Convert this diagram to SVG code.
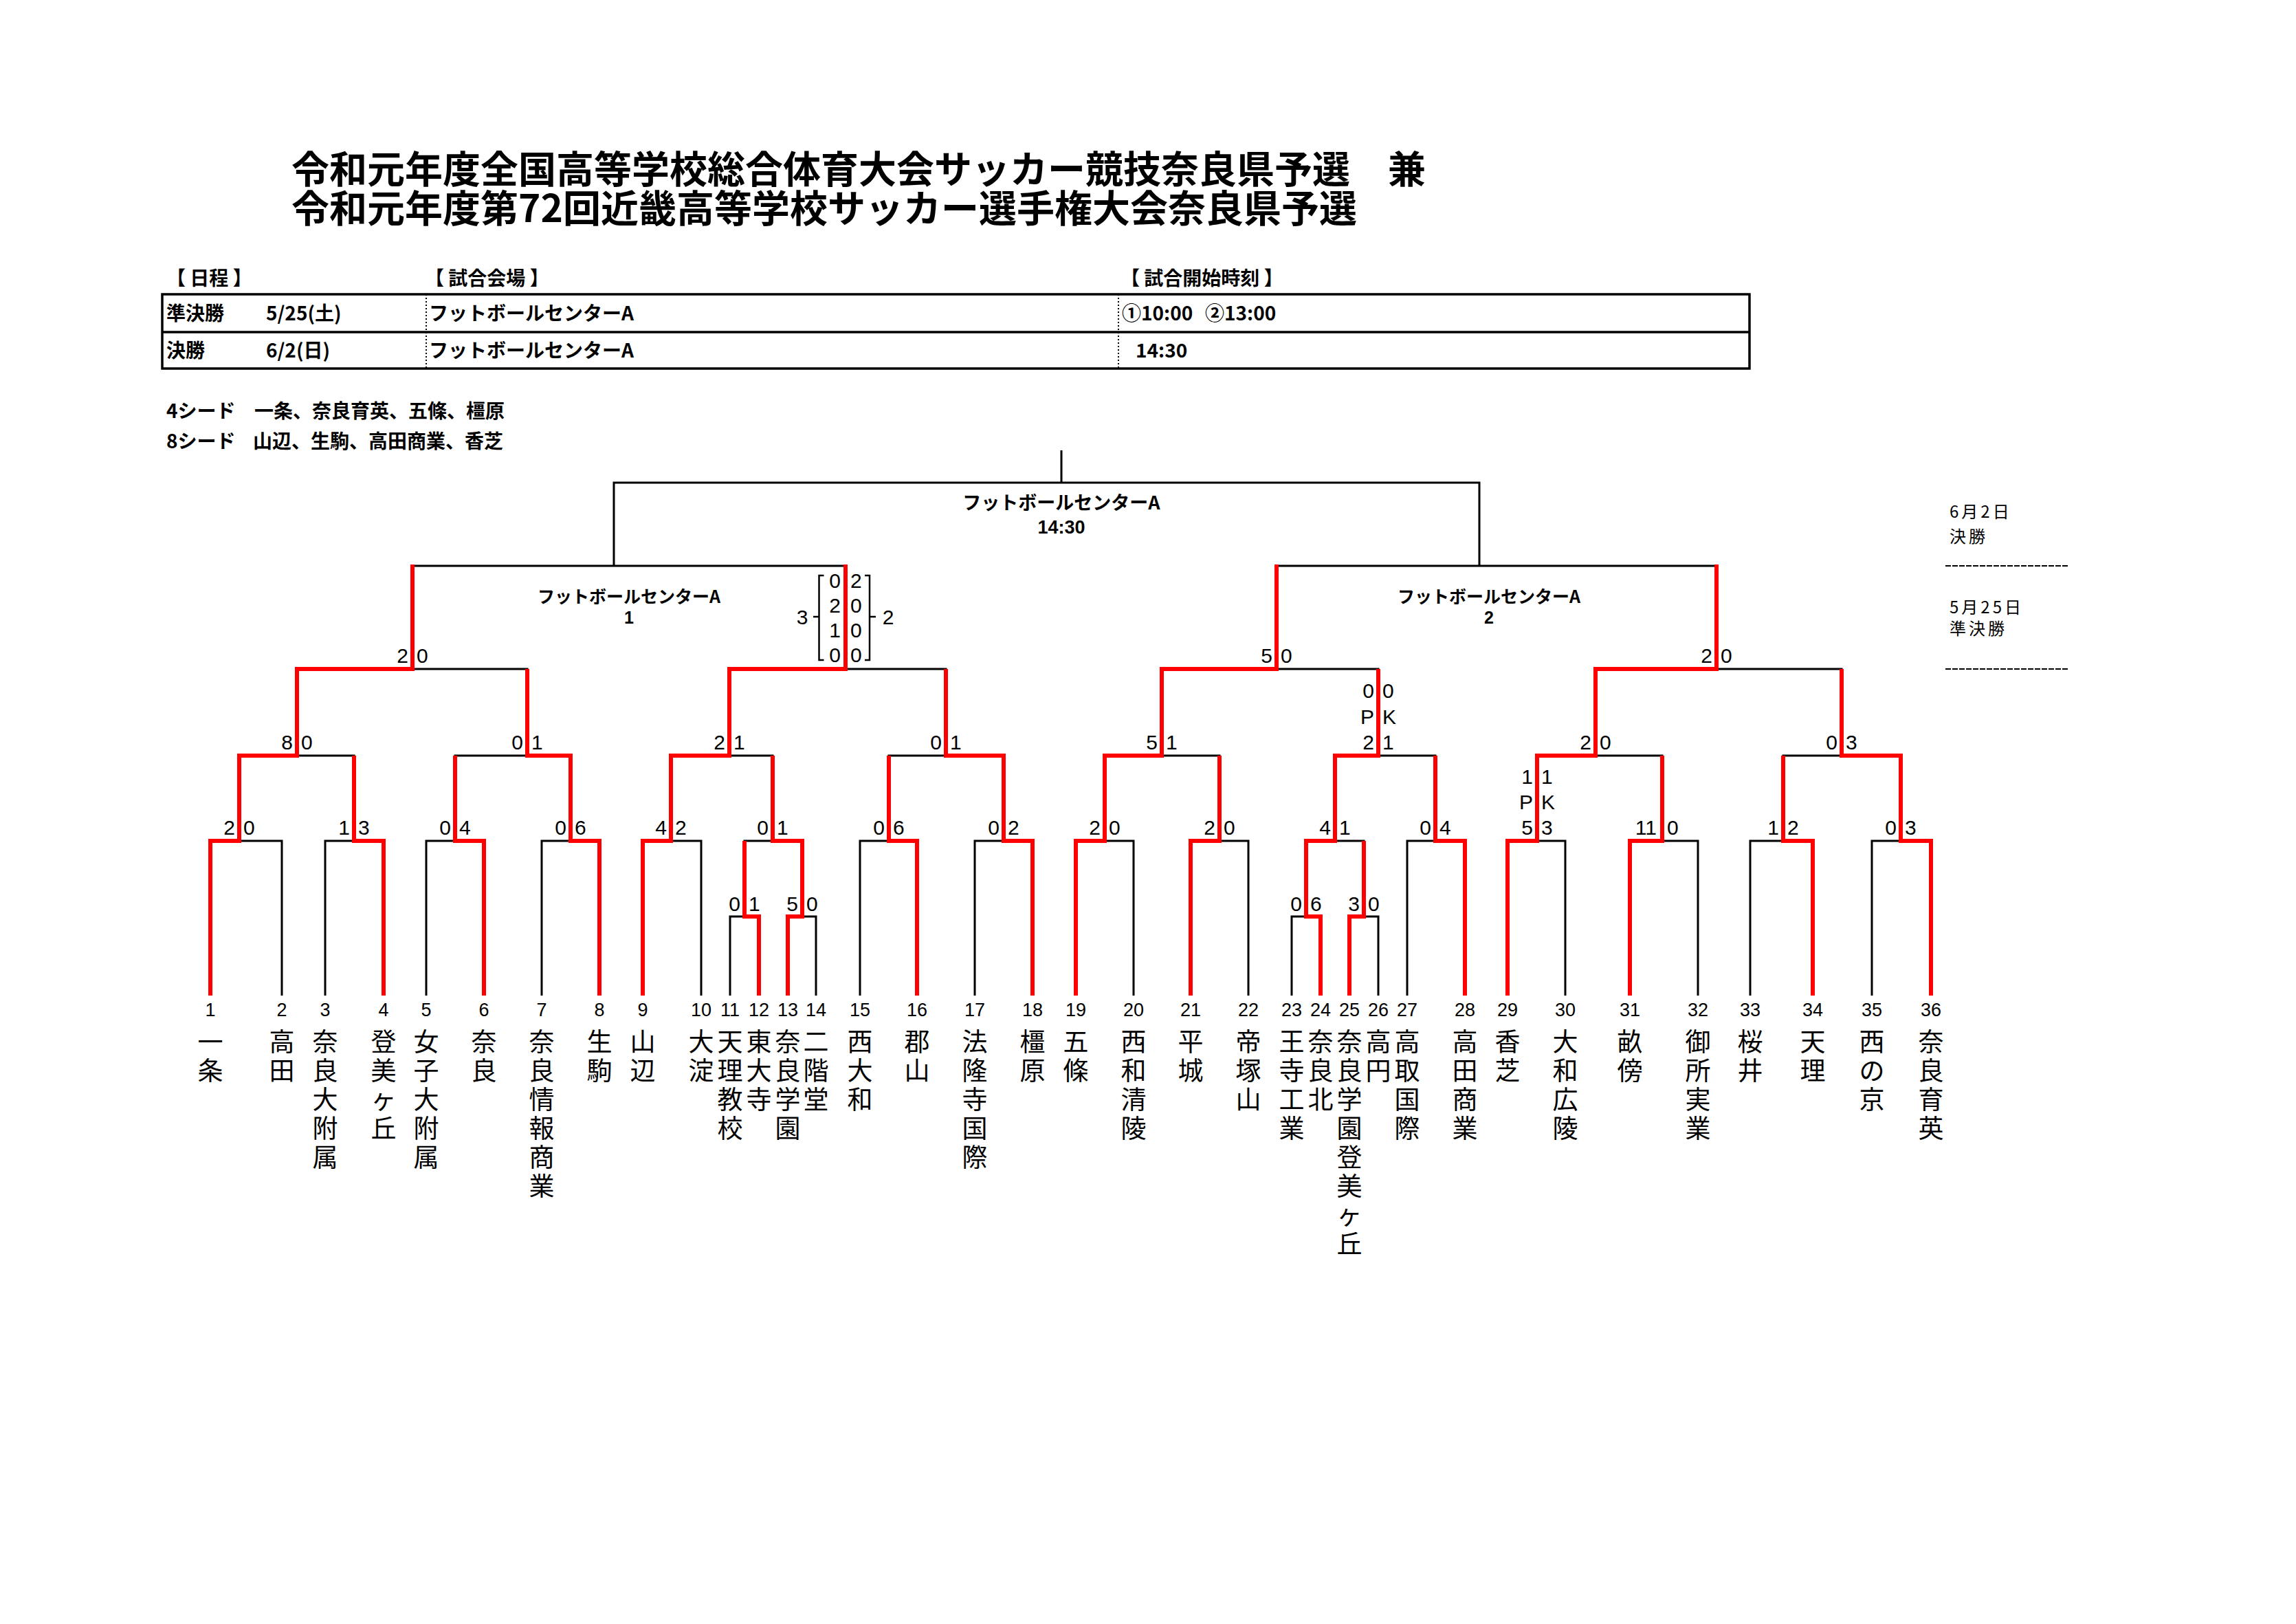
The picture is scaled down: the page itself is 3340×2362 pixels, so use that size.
<svg xmlns="http://www.w3.org/2000/svg" width="3340" height="2362" viewBox="0 0 3340 2362">
<style>
text{font-family:"Liberation Sans","Noto Sans CJK JP",sans-serif;fill:#000}
.ttl{font-family:"Noto Sans CJK JP",sans-serif;font-size:55px;font-weight:bold}
.hd{font-family:"Noto Sans CJK JP",sans-serif;font-size:28px;font-weight:bold}
.vn{font-family:"Noto Sans CJK JP",sans-serif;font-weight:bold;text-anchor:middle}
.vd{font-family:"Liberation Sans",sans-serif;font-weight:bold;text-anchor:middle}
.side{font-family:"Noto Sans CJK JP",sans-serif;font-size:24px;letter-spacing:4px}
.num{font-size:27px;text-anchor:middle}
.nm{font-family:"Noto Sans CJK JP",sans-serif;font-size:37px;writing-mode:vertical-rl;letter-spacing:5px;font-feature-settings:"vert" 0,"vrt2" 0}
.L{font-size:30px;text-anchor:end}
.R{font-size:30px;text-anchor:start}
.C{font-size:30px;text-anchor:middle}
.b{fill:none;stroke:#000;stroke-width:3}
.r{fill:none;stroke:#ff0000;stroke-width:6;stroke-linejoin:miter}
.tb{fill:none;stroke:#000;stroke-width:3.5}
.dot{fill:none;stroke:#000;stroke-width:2;stroke-dasharray:2 3}
.dash{fill:none;stroke:#000;stroke-width:2.2;stroke-dasharray:8 2}
.brk{fill:none;stroke:#000;stroke-width:2.5}
</style>
<rect width="3340" height="2362" fill="#fff"/>
<g id="title">
<text class="ttl" x="424" y="266">令和元年度全国高等学校総合体育大会サッカー競技奈良県予選　兼</text>
<text class="ttl" x="424" y="323">令和元年度第72回近畿高等学校サッカー選手権大会奈良県予選</text>
</g>
<g id="schedule">
<text class="hd" x="242" y="415">【 日程 】</text>
<text class="hd" x="618" y="415">【 試合会場 】</text>
<text class="hd" x="1630" y="415">【 試合開始時刻 】</text>
<path class="tb" d="M236 428 H2545 V536 H236 Z M236 483 H2545"/>
<path class="dot" d="M620 428 V536 M1627 428 V536"/>
<text class="hd" x="242" y="466">準決勝</text>
<text class="hd" x="387" y="466">5/25(土)</text>
<text class="hd" x="624" y="466">フットボールセンターA</text>
<text class="hd" x="1632" y="466">①10:00</text>
<text class="hd" x="1753" y="466">②13:00</text>
<text class="hd" x="242" y="520">決勝</text>
<text class="hd" x="387" y="520">6/2(日)</text>
<text class="hd" x="624" y="520">フットボールセンターA</text>
<text class="hd" x="1652" y="520">14:30</text>
</g>
<g id="seeds">
<text class="hd" x="242" y="608">4シード</text>
<text class="hd" x="370" y="608">一条、奈良育英、五條、橿原</text>
<text class="hd" x="242" y="652">8シード</text>
<text class="hd" x="368" y="652">山辺、生駒、高田商業、香芝</text>
</g>
<g id="round-labels">
<text class="side" x="2836" y="753">6月2日</text>
<text class="side" x="2836" y="789">決勝</text>
<path class="dash" d="M2830 823 H3010 M2830 973 H3010"/>
<text class="side" x="2836" y="892">5月25日</text>
<text class="side" x="2836" y="923">準決勝</text>
</g>
<g id="connectors">
<g id="black-lines">
<path class="b" d="M1544 655 V702 M893 823 V702 H2152 V823"/>
<path class="b" d="M600 973 V823 H1230 V973 M1857 973 V823 H2497 V973"/>
<path class="b" d="M432 1099 V973 H767 V1099 M1061 1099 V973 H1376 V1099 M1690 1099 V973 H2005 V1099 M2321 1099 V973 H2679 V1099"/>
<path class="b" d="M348 1223 V1099 H515 V1223 M662 1223 V1099 H830 V1223 M976 1223 V1099 H1124 V1223 M1293 1223 V1099 H1460 V1223 M1607 1223 V1099 H1774 V1223 M1942 1223 V1099 H2088 V1223 M2236 1223 V1099 H2418 V1223 M2594 1223 V1099 H2765 V1223"/>
<path class="b" d="M306 1448 V1223 H410 V1448 M473 1448 V1223 H558 V1448 M620 1448 V1223 H704 V1448 M788 1448 V1223 H872 V1448 M935 1448 V1223 H1020 V1448 M1083 1333 V1223 H1167 V1333 M1251 1448 V1223 H1334 V1448 M1418 1448 V1223 H1502 V1448"/>
<path class="b" d="M1565 1448 V1223 H1649 V1448 M1732 1448 V1223 H1816 V1448 M1900 1333 V1223 H1984 V1333 M2047 1448 V1223 H2131 V1448 M2193 1448 V1223 H2277 V1448 M2371 1448 V1223 H2470 V1448 M2546 1448 V1223 H2637 V1448 M2723 1448 V1223 H2809 V1448"/>
<path class="b" d="M1062 1448 V1333 H1104 V1448 M1146 1448 V1333 H1187 V1448 M1879 1448 V1333 H1921 V1448 M1963 1448 V1333 H2005 V1448"/>
</g>
<g id="red-lines">
<path class="r" d="M306 1448 V1223 H348 V1099 H432 V973 H600 V821"/>
<path class="r" d="M558 1448 V1223 H515 V1099"/>
<path class="r" d="M704 1448 V1223 H662 V1099"/>
<path class="r" d="M872 1448 V1223 H830 V1099 H767 V973"/>
<path class="r" d="M935 1448 V1223 H976 V1099 H1061 V973 H1230 V821"/>
<path class="r" d="M1104 1448 V1333 H1083 V1223"/>
<path class="r" d="M1146 1448 V1333 H1167 V1223 H1124 V1099"/>
<path class="r" d="M1334 1448 V1223 H1293 V1099"/>
<path class="r" d="M1502 1448 V1223 H1460 V1099 H1376 V973"/>
<path class="r" d="M1565 1448 V1223 H1607 V1099 H1690 V973 H1857 V821"/>
<path class="r" d="M1732 1448 V1223 H1774 V1099"/>
<path class="r" d="M1921 1448 V1333 H1900 V1223 H1942 V1099 H2005 V973"/>
<path class="r" d="M1963 1448 V1333 H1984 V1223"/>
<path class="r" d="M2131 1448 V1223 H2088 V1099"/>
<path class="r" d="M2193 1448 V1223 H2236 V1099 H2321 V973 H2497 V821"/>
<path class="r" d="M2371 1448 V1223 H2418 V1099"/>
<path class="r" d="M2637 1448 V1223 H2594 V1099"/>
<path class="r" d="M2809 1448 V1223 H2765 V1099 H2679 V973"/>
</g>
</g>
<g id="venue-labels">
<g id="final"><text class="vn" x="1544" y="741" font-size="27">フットボールセンターA</text><text class="vd" x="1544" y="776" font-size="27">14:30</text></g>
<g id="semi-1"><text class="vn" x="915" y="877" font-size="25">フットボールセンターA</text><text class="vd" x="915" y="907" font-size="25">1</text></g>
<g id="semi-2"><text class="vn" x="2166" y="877" font-size="25">フットボールセンターA</text><text class="vd" x="2166" y="907" font-size="25">2</text></g>
</g>
<g id="scores">
<g id="r0-scores">
<text class="L" x="1077" y="1325">0</text><text class="R" x="1089" y="1325">1</text>
<text class="L" x="1161" y="1325">5</text><text class="R" x="1173" y="1325">0</text>
<text class="L" x="1894" y="1325">0</text><text class="R" x="1906" y="1325">6</text>
<text class="L" x="1978" y="1325">3</text><text class="R" x="1990" y="1325">0</text>
</g>
<g id="r1-scores">
<text class="L" x="342" y="1214">2</text><text class="R" x="354" y="1214">0</text>
<text class="L" x="509" y="1214">1</text><text class="R" x="521" y="1214">3</text>
<text class="L" x="656" y="1214">0</text><text class="R" x="668" y="1214">4</text>
<text class="L" x="824" y="1214">0</text><text class="R" x="836" y="1214">6</text>
<text class="L" x="970" y="1214">4</text><text class="R" x="982" y="1214">2</text>
<text class="L" x="1118" y="1214">0</text><text class="R" x="1130" y="1214">1</text>
<text class="L" x="1287" y="1214">0</text><text class="R" x="1299" y="1214">6</text>
<text class="L" x="1454" y="1214">0</text><text class="R" x="1466" y="1214">2</text>
<text class="L" x="1601" y="1214">2</text><text class="R" x="1613" y="1214">0</text>
<text class="L" x="1768" y="1214">2</text><text class="R" x="1780" y="1214">0</text>
<text class="L" x="1936" y="1214">4</text><text class="R" x="1948" y="1214">1</text>
<text class="L" x="2082" y="1214">0</text><text class="R" x="2094" y="1214">4</text>
<text class="L" x="2230" y="1140">1</text><text class="R" x="2242" y="1140">1</text>
<text class="L" x="2230" y="1177">P</text><text class="R" x="2242" y="1177">K</text>
<text class="L" x="2230" y="1214">5</text><text class="R" x="2242" y="1214">3</text>
<text class="L" x="2410" y="1214">11</text><text class="R" x="2425" y="1214">0</text>
<text class="L" x="2588" y="1214">1</text><text class="R" x="2600" y="1214">2</text>
<text class="L" x="2759" y="1214">0</text><text class="R" x="2771" y="1214">3</text>
</g>
<g id="r2-scores">
<text class="L" x="426" y="1090">8</text><text class="R" x="438" y="1090">0</text>
<text class="L" x="761" y="1090">0</text><text class="R" x="773" y="1090">1</text>
<text class="L" x="1055" y="1090">2</text><text class="R" x="1067" y="1090">1</text>
<text class="L" x="1370" y="1090">0</text><text class="R" x="1382" y="1090">1</text>
<text class="L" x="1684" y="1090">5</text><text class="R" x="1696" y="1090">1</text>
<text class="L" x="1999" y="1015">0</text><text class="R" x="2011" y="1015">0</text>
<text class="L" x="1999" y="1053">P</text><text class="R" x="2011" y="1053">K</text>
<text class="L" x="1999" y="1090">2</text><text class="R" x="2011" y="1090">1</text>
<text class="L" x="2315" y="1090">2</text><text class="R" x="2327" y="1090">0</text>
<text class="L" x="2673" y="1090">0</text><text class="R" x="2685" y="1090">3</text>
</g>
<g id="qf-scores">
<text class="L" x="594" y="964">2</text><text class="R" x="606" y="964">0</text>
<text class="L" x="1851" y="964">5</text><text class="R" x="1863" y="964">0</text>
<text class="L" x="2491" y="964">2</text><text class="R" x="2503" y="964">0</text>
<text class="L" x="1223" y="855">0</text><text class="R" x="1237" y="855">2</text>
<text class="L" x="1223" y="891">2</text><text class="R" x="1237" y="891">0</text>
<text class="L" x="1223" y="927">1</text><text class="R" x="1237" y="927">0</text>
<text class="L" x="1223" y="963">0</text><text class="R" x="1237" y="963">0</text>
<path class="brk" d="M1198.5 837 H1191.5 V960 H1198.5 M1191.5 897 H1183 M1258 837 H1265 V960 H1258 M1265 897 H1274"/>
<text class="C" x="1167" y="908">3</text>
<text class="C" x="1292" y="908">2</text>
</g>
</g>
<g id="teams">
<g id="team-1"><text class="num" x="306" y="1478">1</text><text class="nm" x="306" y="1496">一条</text></g>
<g id="team-2"><text class="num" x="410" y="1478">2</text><text class="nm" x="410" y="1496">高田</text></g>
<g id="team-3"><text class="num" x="473" y="1478">3</text><text class="nm" x="473" y="1496">奈良大附属</text></g>
<g id="team-4"><text class="num" x="558" y="1478">4</text><text class="nm" x="558" y="1496">登美ヶ丘</text></g>
<g id="team-5"><text class="num" x="620" y="1478">5</text><text class="nm" x="620" y="1496">女子大附属</text></g>
<g id="team-6"><text class="num" x="704" y="1478">6</text><text class="nm" x="704" y="1496">奈良</text></g>
<g id="team-7"><text class="num" x="788" y="1478">7</text><text class="nm" x="788" y="1496">奈良情報商業</text></g>
<g id="team-8"><text class="num" x="872" y="1478">8</text><text class="nm" x="872" y="1496">生駒</text></g>
<g id="team-9"><text class="num" x="935" y="1478">9</text><text class="nm" x="935" y="1496">山辺</text></g>
<g id="team-10"><text class="num" x="1020" y="1478">10</text><text class="nm" x="1020" y="1496">大淀</text></g>
<g id="team-11"><text class="num" x="1062" y="1478">11</text><text class="nm" x="1062" y="1496">天理教校</text></g>
<g id="team-12"><text class="num" x="1104" y="1478">12</text><text class="nm" x="1104" y="1496">東大寺</text></g>
<g id="team-13"><text class="num" x="1146" y="1478">13</text><text class="nm" x="1146" y="1496">奈良学園</text></g>
<g id="team-14"><text class="num" x="1187" y="1478">14</text><text class="nm" x="1187" y="1496">二階堂</text></g>
<g id="team-15"><text class="num" x="1251" y="1478">15</text><text class="nm" x="1251" y="1496">西大和</text></g>
<g id="team-16"><text class="num" x="1334" y="1478">16</text><text class="nm" x="1334" y="1496">郡山</text></g>
<g id="team-17"><text class="num" x="1418" y="1478">17</text><text class="nm" x="1418" y="1496">法隆寺国際</text></g>
<g id="team-18"><text class="num" x="1502" y="1478">18</text><text class="nm" x="1502" y="1496">橿原</text></g>
<g id="team-19"><text class="num" x="1565" y="1478">19</text><text class="nm" x="1565" y="1496">五條</text></g>
<g id="team-20"><text class="num" x="1649" y="1478">20</text><text class="nm" x="1649" y="1496">西和清陵</text></g>
<g id="team-21"><text class="num" x="1732" y="1478">21</text><text class="nm" x="1732" y="1496">平城</text></g>
<g id="team-22"><text class="num" x="1816" y="1478">22</text><text class="nm" x="1816" y="1496">帝塚山</text></g>
<g id="team-23"><text class="num" x="1879" y="1478">23</text><text class="nm" x="1879" y="1496">王寺工業</text></g>
<g id="team-24"><text class="num" x="1921" y="1478">24</text><text class="nm" x="1921" y="1496">奈良北</text></g>
<g id="team-25"><text class="num" x="1963" y="1478">25</text><text class="nm" x="1963" y="1496">奈良学園登美ヶ丘</text></g>
<g id="team-26"><text class="num" x="2005" y="1478">26</text><text class="nm" x="2005" y="1496">高円</text></g>
<g id="team-27"><text class="num" x="2047" y="1478">27</text><text class="nm" x="2047" y="1496">高取国際</text></g>
<g id="team-28"><text class="num" x="2131" y="1478">28</text><text class="nm" x="2131" y="1496">高田商業</text></g>
<g id="team-29"><text class="num" x="2193" y="1478">29</text><text class="nm" x="2193" y="1496">香芝</text></g>
<g id="team-30"><text class="num" x="2277" y="1478">30</text><text class="nm" x="2277" y="1496">大和広陵</text></g>
<g id="team-31"><text class="num" x="2371" y="1478">31</text><text class="nm" x="2371" y="1496">畝傍</text></g>
<g id="team-32"><text class="num" x="2470" y="1478">32</text><text class="nm" x="2470" y="1496">御所実業</text></g>
<g id="team-33"><text class="num" x="2546" y="1478">33</text><text class="nm" x="2546" y="1496">桜井</text></g>
<g id="team-34"><text class="num" x="2637" y="1478">34</text><text class="nm" x="2637" y="1496">天理</text></g>
<g id="team-35"><text class="num" x="2723" y="1478">35</text><text class="nm" x="2723" y="1496">西の京</text></g>
<g id="team-36"><text class="num" x="2809" y="1478">36</text><text class="nm" x="2809" y="1496">奈良育英</text></g>
</g>
</svg>
